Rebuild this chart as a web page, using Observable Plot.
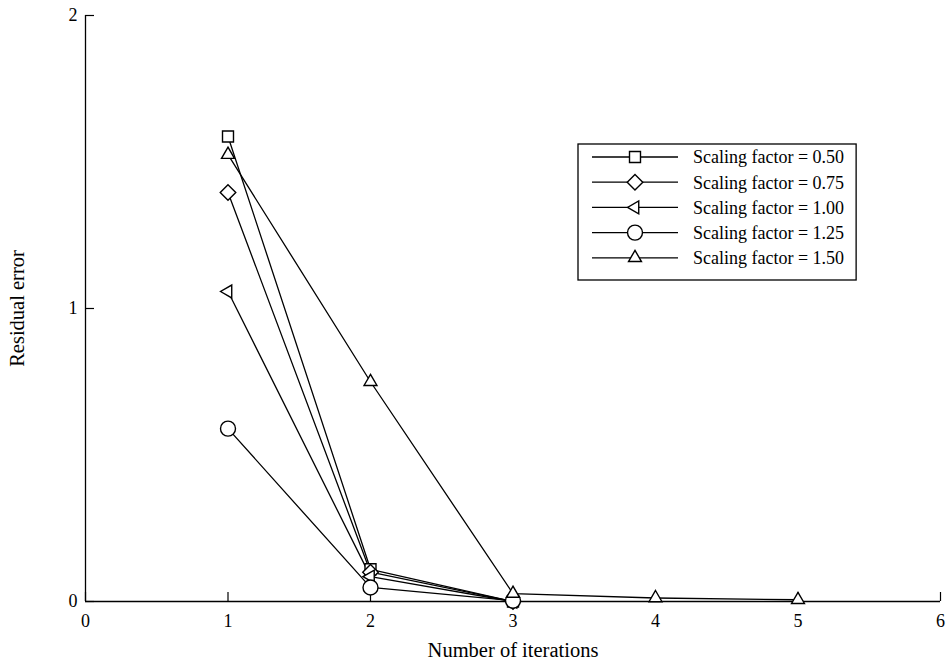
<!DOCTYPE html>
<html>
<head>
<meta charset="utf-8">
<script src="https://cdn.jsdelivr.net/npm/d3@7"></script>
<script src="https://cdn.jsdelivr.net/npm/@observablehq/plot@0.6"></script>
<style>
  html, body { margin: 0; padding: 0; background: #fff; }
  #chart { position: relative; width: 950px; height: 665px; }
  svg { font-family: "Liberation Serif", "Times New Roman", serif; }
</style>
</head>
<body>
<div id="chart"></div>
<script>
// ---- Data ----
const iterations = [1, 2, 3, 4, 5];
const seriesNames = [
  "Scaling factor = 0.50",
  "Scaling factor = 0.75",
  "Scaling factor = 1.00",
  "Scaling factor = 1.25",
  "Scaling factor = 1.50"
];
const sf050 = [1.587, 0.11, 0.0];
const sf075 = [1.396, 0.10, 0.0];
const sf100 = [1.058, 0.085, 0.0];
const sf125 = [0.59, 0.048, 0.003];
const sf150 = [1.525, 0.75, 0.027, 0.012, 0.006];
const xTicks = [0, 1, 2, 3, 4, 5, 6];
const yTicks = [0, 1, 2];
const xLabel = "Number of iterations";
const yLabel = "Residual error";

// ---- Symbols ----
const sqrt3 = Math.sqrt(3);
const triangleLeft = {
  draw(context, size) {
    const y = -Math.sqrt(size / (sqrt3 * 3));
    context.moveTo(y * 2, 0);
    context.lineTo(-y, -sqrt3 * y);
    context.lineTo(-y, sqrt3 * y);
    context.closePath();
  }
};
const symbolsList = [d3.symbolSquare, d3.symbolDiamond2, triangleLeft, d3.symbolCircle, d3.symbolTriangle];
const radii = [6.2, 7.0, 4.8, 7.5, 4.8];

const allSeries = [sf050, sf075, sf100, sf125, sf150];
const table = [];
allSeries.forEach((vals, si) => {
  vals.forEach((v, i) => table.push({series: seriesNames[si], si, x: iterations[i], y: v}));
});

const W = 950, H = 665;
const fontTick = 18;
const fontTitle = 20.5;
const fontLegend = 18;

const marks = [
  Plot.ruleX([0], {stroke: "black", strokeWidth: 1.3}),
  Plot.ruleY([0], {stroke: "black", strokeWidth: 1.3}),
  // inward ticks
  Plot.axisX(xTicks, {tickSize: 9, dy: -9, text: null, label: null, strokeWidth: 1.2}),
  Plot.axisY(yTicks, {tickSize: 9, dx: 9, text: null, label: null, strokeWidth: 1.2}),
  // labels
  Plot.axisX(xTicks, {tickSize: 0, tickPadding: 13, fontSize: fontTick, label: null, tickFormat: d => String(d)}),
  Plot.axisY(yTicks, {tickSize: 0, tickPadding: 8, fontSize: fontTick, label: null, tickFormat: d => String(d)}),
  Plot.line(table, {x: "x", y: "y", z: "series", stroke: "black", strokeWidth: 1.3})
];
seriesNames.forEach((name, si) => {
  marks.push(Plot.dot(table.filter(d => d.si === si), {
    x: "x", y: "y", symbol: () => symbolsList[si], r: radii[si],
    fill: "white", stroke: "black", strokeWidth: 1.4
  }));
});
marks.push(Plot.text([xLabel], {frameAnchor: "bottom", lineAnchor: "middle", textAnchor: "middle", dy: 49, fontSize: fontTitle}));
marks.push(Plot.text([yLabel], {frameAnchor: "left", lineAnchor: "middle", textAnchor: "middle", dx: -68, rotate: -90, fontSize: fontTitle}));

const chart = Plot.plot({
  width: W,
  height: H,
  marginLeft: 85,
  marginRight: 10,
  marginTop: 15,
  marginBottom: 64,
  x: {domain: [0, 6], axis: null},
  y: {domain: [0, 2], axis: null},
  symbol: {type: "identity"},
  style: {fontFamily: "Liberation Serif, Times New Roman, serif", color: "black", background: "white", overflow: "visible"},
  marks
});
document.getElementById("chart").appendChild(chart);

// ---- Legend (drawn with d3 into the plot svg) ----
const svg = d3.select(chart);
const lg = svg.append("g").attr("transform", "translate(578,144)");
const rowH = 25.2, row0 = 13, boxH = 136;
const rect = lg.append("rect").attr("height", boxH)
  .attr("fill", "white").attr("stroke", "black").attr("stroke-width", 1.3);
let maxW = 0;
seriesNames.forEach((name, si) => {
  const gy = row0 + si * rowH;
  const row = lg.append("g").attr("transform", `translate(0,${gy})`);
  row.append("line").attr("x1", 14).attr("x2", 100).attr("stroke", "black").attr("stroke-width", 1.3);
  row.append("path")
    .attr("transform", "translate(57,0)")
    .attr("d", d3.symbol(symbolsList[si], Math.PI * radii[si] * radii[si])())
    .attr("fill", "white").attr("stroke", "black").attr("stroke-width", 1.4);
  const t = row.append("text").attr("x", 115).attr("dy", "0.35em")
    .attr("text-anchor", "start")
    .attr("font-size", fontLegend).attr("fill", "black").text(name);
  maxW = Math.max(maxW, t.node().getComputedTextLength());
});
rect.attr("width", 115 + maxW + 12);
</script>
</body>
</html>
